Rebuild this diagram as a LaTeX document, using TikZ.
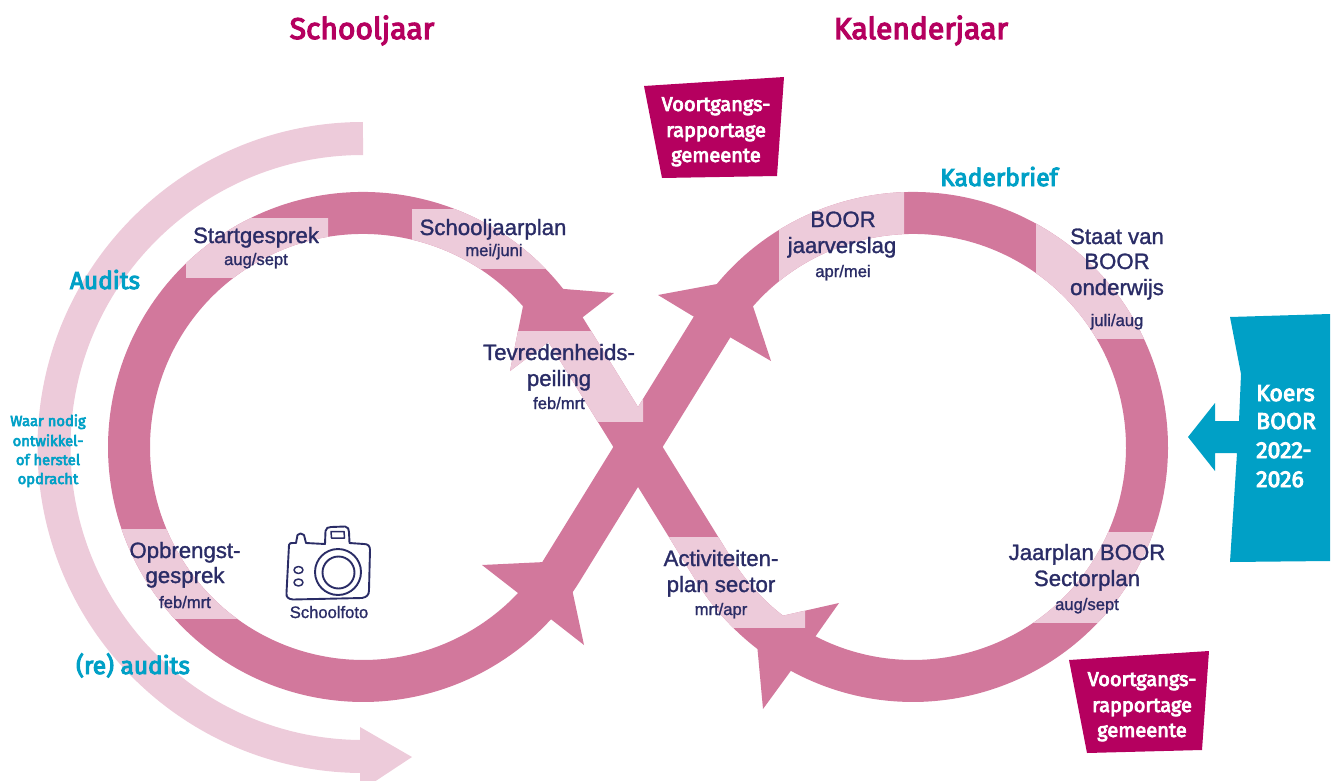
\documentclass[tikz,border=0pt]{standalone}
\usepackage{fontspec}
\setmainfont[FakeBold=1.3]{Liberation Sans}
\newfontfamily\roundfont[FakeBold=4]{Fira Sans}
\definecolor{bandD}{HTML}{D2789C}
\definecolor{bandL}{HTML}{EDCBDA}
\definecolor{navy}{HTML}{2A2C66}
\definecolor{magenta}{HTML}{B5005F}
\definecolor{blueK}{HTML}{00A0C6}
\newcommand{\eightshape}[1]{%
  \draw[#1,line width=42pt,line join=miter]
    (562.1,-324) arc[start angle=31.7,end angle=328.3,radius=234]
    -- (713.9,-324) arc[start angle=148.3,end angle=-148.3,radius=234]
    -- cycle;
  \fill[#1] (527,-286) -- (614,-293) -- (583,-317) -- (547,-343) -- (510,-371) -- cycle;
  \fill[#1] (744,-279) -- (658,-295) -- (691,-315) -- (728,-336) -- (771,-361) -- cycle;
  \fill[#1] (566,-561) -- (482,-565) -- (518,-593) -- (552,-620) -- (584,-645) -- cycle;
  \fill[#1] (755,-622) -- (839,-603) -- (815,-637) -- (790,-672) -- (763,-709) -- cycle;
}
\newcommand{\lightpart}[4]{%
  \begin{scope}
    \clip (#1,-#2) rectangle (#3,-#4);
    \eightshape{bandL}
  \end{scope}
}
\tikzset{
  x=1pt,y=1pt,
  lab/.style={anchor=base,inner sep=0pt,text=navy,font=\fontsize{22.2}{26}\selectfont},
  sub/.style={anchor=base,inner sep=0pt,text=navy,font=\fontsize{16.6}{20}\selectfont},
  title/.style={anchor=base,inner sep=0pt,text=magenta,font=\roundfont\fontsize{30}{36}\selectfont},
  bluelab/.style={anchor=base,inner sep=0pt,text=blueK,font=\roundfont\fontsize{24.5}{29}\selectfont},
  bluesmall/.style={anchor=base,inner sep=0pt,text=blueK,font=\roundfont\fontsize{14.8}{17}\selectfont},
  whitelab/.style={anchor=base,inner sep=0pt,text=white,font=\roundfont\fontsize{20}{25}\selectfont},
  koerslab/.style={anchor=base west,inner sep=0pt,text=white,font=\roundfont\fontsize{23}{29}\selectfont},
  cam/.style={draw=navy,line width=1.9pt,line join=round,line cap=round},
}
\begin{document}
\begin{tikzpicture}
\useasboundingbox (0,-781) rectangle (1333,0);
% audit arrow
\draw[bandL,line width=33pt] (363,-138.5) arc[start angle=90,end angle=270,radius=309] -- (361,-756.5);
\fill[bandL] (360,-727) -- (412,-757) -- (375.6,-781) -- (360,-781) -- cycle;
% figure of eight
\eightshape{bandD}
\lightpart{186}{218}{328}{277}
\lightpart{412}{209}{600}{268}
\lightpart{480}{331}{643}{421}
\lightpart{100}{529}{300}{618}
\lightpart{640}{537}{805}{627}
\lightpart{779}{180}{904}{320}
\lightpart{1036}{180}{1180}{338}
\lightpart{1000}{532}{1180}{622}
% titles
\node[title] (t1) at (362,-39) {Schooljaar};
\node[title] (t2) at (921,-39) {Kalenderjaar};
\node[bluelab] (a1) at (105,-289) {Audits};
\node[bluelab] (a2) at (133,-674) {(re) audits};
\node[bluelab] (kb) at (999,-186) {Kaderbrief};
\node[bluesmall] (w1) at (48,-426) {Waar nodig};
\node[bluesmall] (w2) at (48,-446) {ontwikkel-};
\node[bluesmall] (w3) at (48,-465) {of herstel};
\node[bluesmall] (w4) at (48,-484) {opdracht};
% ring labels
\node[lab] (s1) at (256,-243) {Startgesprek};
\node[sub] (s2) at (256,-265) {aug/sept};
\node[lab] (j1) at (493,-235) {Schooljaarplan};
\node[sub] (j2) at (494,-256) {mei/juni};
\node[lab] (v1) at (559,-360) {Tevredenheids-};
\node[lab] (v2) at (559,-386) {peiling};
\node[sub] (v3) at (559,-409) {feb/mrt};
\node[lab] (b1) at (721,-566) {Activiteiten-};
\node[lab] (b2) at (721,-592) {plan sector};
\node[sub] (b3) at (721,-615) {mrt/apr};
\node[lab] (o1) at (185,-558) {Opbrengst-};
\node[lab] (o2) at (185,-583) {gesprek};
\node[sub] (o3) at (185,-608) {feb/mrt};
\node[lab] (y1) at (843,-227) {BOOR};
\node[lab] (y2) at (842,-253) {jaarverslag};
\node[sub] (y3) at (843,-277) {apr/mei};
\node[lab] (z1) at (1117,-244) {Staat van};
\node[lab] (z2) at (1117,-269) {BOOR};
\node[lab] (z3) at (1117,-295) {onderwijs};
\node[sub] (z4) at (1117,-326) {juli/aug};
\node[lab] (q1) at (1087,-560) {Jaarplan BOOR};
\node[lab] (q2) at (1087,-586) {Sectorplan};
\node[sub] (q3) at (1087,-610) {aug/sept};
% camera
\draw[cam] (289,-545) .. controls (289,-543) and (290,-543) .. (296,-543)
  -- (297.5,-535) .. controls (299,-533) and (302,-533) .. (304,-535) -- (306,-543) -- (325,-544)
  -- (325.5,-531) .. controls (326,-528) and (328,-527) .. (331,-527) -- (345,-526.5)
  .. controls (348,-527) and (349,-529) .. (349,-532) -- (349.5,-543) -- (364,-544)
  .. controls (368,-544) and (370,-546) .. (370,-550) -- (369,-590)
  .. controls (369,-595) and (367,-597) .. (362,-598) -- (293,-599.5)
  .. controls (288,-599) and (286,-597) .. (286.5,-593) -- cycle;
\draw[cam,line width=1.5pt] (331,-531.5) -- (344,-531.5) -- (344.5,-538) -- (331.5,-538) -- cycle;
\draw[cam] (338,-572) circle[radius=23];
\draw[cam] (338.5,-572.5) circle[radius=16];
\draw[cam,line width=1.5pt] (298.5,-570) ellipse[x radius=4.5,y radius=3.5];
\draw[cam,line width=1.5pt] (298.5,-582.5) ellipse[x radius=4.5,y radius=3.5];
\node[sub,font=\fontsize{16.6}{20}\selectfont] (sf) at (329,-618) {Schoolfoto};
% boxes
\fill[magenta] (644,-86) -- (784,-77) -- (777,-176) -- (662,-178) -- cycle;
\node[whitelab] (r1) at (716,-111) {Voortgangs-};
\node[whitelab] (r2) at (716,-137) {rapportage};
\node[whitelab] (r3) at (716,-162) {gemeente};
\fill[magenta] (1069,-660) -- (1209,-651) -- (1202,-750) -- (1087,-753) -- cycle;
\node[whitelab] (p1) at (1142,-686) {Voortgangs-};
\node[whitelab] (p2) at (1142,-712) {rapportage};
\node[whitelab] (p3) at (1142,-737) {gemeente};
% koers
\fill[blueK] (1230,-317) -- (1330,-314) -- (1330,-561) -- (1230,-562) -- (1237,-453)
  -- (1215,-453) -- (1215,-471) -- (1188,-437) -- (1215,-403) -- (1215,-421) -- (1239,-421) -- (1241,-374) -- cycle;
\node[koerslab] (k1) at (1256,-401) {Koers};
\node[koerslab] (k2) at (1256,-429) {BOOR};
\node[koerslab] (k3) at (1256,-458) {2022-};
\node[koerslab] (k4) at (1256,-487) {2026};
\end{tikzpicture}
\end{document}
